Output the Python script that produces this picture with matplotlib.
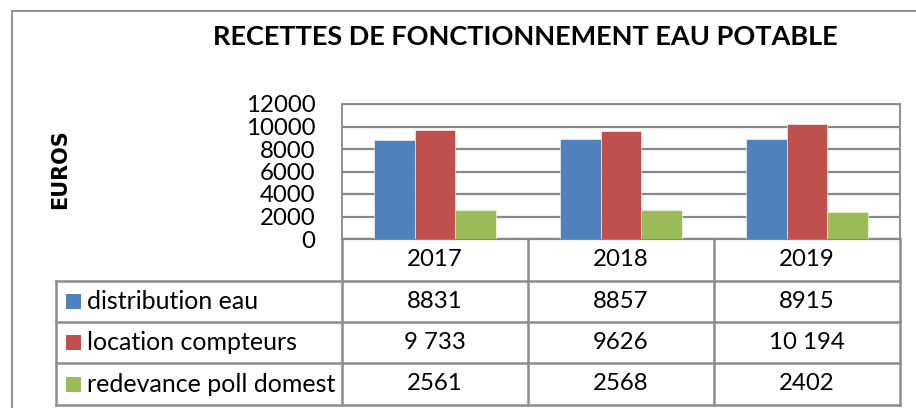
import matplotlib
matplotlib.use("Agg")
import matplotlib.pyplot as plt
from matplotlib.lines import Line2D
from matplotlib.patches import Rectangle
import matplotlib.transforms as mtransforms

# ---- data ----
title = "RECETTES DE FONCTIONNEMENT EAU POTABLE"
ylabel = "EUROS"
years = ["2017", "2018", "2019"]
series_names = ["distribution eau", "location compteurs", "redevance poll domest"]
distribution_eau = [8831, 8857, 8915]
location_compteurs = [9733, 9626, 10194]
redevance_poll = [2561, 2568, 2402]
table_labels = [["8831", "8857", "8915"],
                ["9 733", "9626", "10 194"],
                ["2561", "2568", "2402"]]
yticks = [0, 2000, 4000, 6000, 8000, 10000, 12000]

colors = ["#4F81BD", "#C0504D", "#9BBB59"]
series = [distribution_eau, location_compteurs, redevance_poll]

W, H = 916, 408
fig = plt.figure(figsize=(W / 100, H / 100), dpi=100)
FONT = ["Lato", "DejaVu Sans"]
grid_col = "#878787"
NUM_FS = 17.3
TXT_FS = 18

def fx(px):
    return px / W

def fy(py):
    return 1 - py / H

# outer border
fig.add_artist(Rectangle((fx(12), fy(430)), fx(1000), (430 - 11) / H,
                         transform=fig.transFigure, fill=False,
                         edgecolor="#8a8a8a", linewidth=1.3))

ax_l, ax_r, ax_t, ax_b = 342, 900, 104, 239
ax = fig.add_axes([fx(ax_l), fy(ax_b), (ax_r - ax_l) / W, (ax_b - ax_t) / H])

bw = 0.22
x = list(range(len(years)))
for k, (vals, c) in enumerate(zip(series, colors)):
    ax.bar([xi + (k - 1) * bw for xi in x], vals, width=bw, color=c,
           edgecolor="white", linewidth=0.4, zorder=3)

ax.set_xlim(-0.5, len(years) - 0.5)
ax.set_ylim(0, 12000)
ax.set_yticks(yticks)
ax.set_yticklabels([str(v) for v in yticks], fontfamily=FONT, fontsize=NUM_FS)
ax.tick_params(axis="y", length=0, pad=19)
ax.set_xticks([])
ax.grid(axis="y", color=grid_col, linewidth=1.6, zorder=0)
for s in ax.spines.values():
    s.set_color(grid_col)
    s.set_linewidth(1.3)
ax.spines["bottom"].set_linewidth(1.6)

# title
fig.text(fx(525), fy(37), title, ha="center", va="center",
         fontfamily=FONT, fontweight="bold", fontsize=19.5)
# y label
fig.text(fx(60), fy(169), ylabel, ha="center", va="center", rotation=90,
         fontfamily="DejaVu Sans", fontweight="bold", fontsize=15)

# ---- data table ----
tr = mtransforms.blended_transform_factory(ax.transData, fig.transFigure)
tbl_col = "#8c8c8c"
lw = 1.8
header_top, header_bot = 239, 281
row_lines = [281, 322, 363, 405]
xb = [-0.5 + i for i in range(len(years) + 1)]

for xv in xb:
    fig.add_artist(Line2D([xv, xv], [fy(header_top), fy(405)], transform=tr,
                          color=tbl_col, linewidth=lw))
for ry in row_lines:
    fig.add_artist(Line2D([fx(56), fx(ax_r)], [fy(ry), fy(ry)],
                          transform=fig.transFigure, color=tbl_col, linewidth=lw))
fig.add_artist(Line2D([fx(56), fx(56)], [fy(281), fy(405)],
                      transform=fig.transFigure, color=tbl_col, linewidth=lw))

for i, yr in enumerate(years):
    fig.text(i, fy((header_top + header_bot) / 2), yr, transform=tr,
             ha="center", va="center", fontfamily=FONT, fontsize=NUM_FS)

for r in range(len(series_names)):
    yc = fy((row_lines[r] + row_lines[r + 1]) / 2)
    fig.add_artist(Rectangle((fx(66), yc - 7.5 / H), 15 / W, 15 / H,
                             transform=fig.transFigure, facecolor=colors[r],
                             edgecolor="none"))
    fig.text(fx(87), yc, series_names[r], ha="left", va="center",
             fontfamily=FONT, fontsize=TXT_FS)
    for i in range(len(years)):
        fig.text(i, yc, table_labels[r][i], transform=tr, ha="center",
                 va="center", fontfamily=FONT, fontsize=NUM_FS)

fig.savefig("out.png", dpi=100)
